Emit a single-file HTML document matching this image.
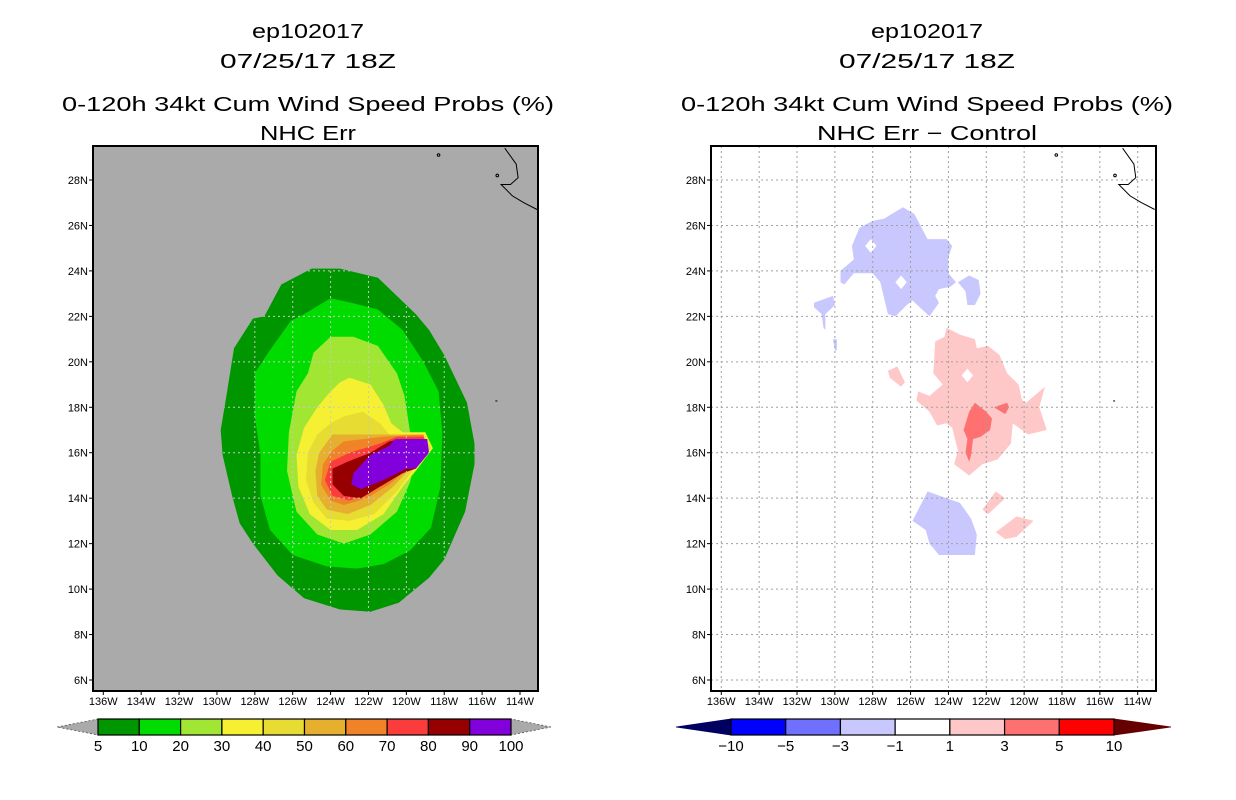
<!DOCTYPE html>
<html><head><meta charset="utf-8"><style>
html,body{margin:0;padding:0;background:#fff;}
svg{display:block;font-family:"Liberation Sans",sans-serif;}
</style></head><body>
<svg id="s" width="1236" height="800" viewBox="0 0 1236 800">
<g id="titles">
<text x="308" y="38" text-anchor="middle" font-size="20" textLength="112" lengthAdjust="spacingAndGlyphs">ep102017</text>
<text x="308" y="68" text-anchor="middle" font-size="20" textLength="176" lengthAdjust="spacingAndGlyphs">07/25/17 18Z</text>
<text x="308" y="111" text-anchor="middle" font-size="20" textLength="492" lengthAdjust="spacingAndGlyphs">0-120h 34kt Cum Wind Speed Probs (%)</text>
<text x="308" y="140" text-anchor="middle" font-size="20" textLength="96" lengthAdjust="spacingAndGlyphs">NHC Err</text>
<text x="927" y="38" text-anchor="middle" font-size="20" textLength="112" lengthAdjust="spacingAndGlyphs">ep102017</text>
<text x="927" y="68" text-anchor="middle" font-size="20" textLength="176" lengthAdjust="spacingAndGlyphs">07/25/17 18Z</text>
<text x="927" y="111" text-anchor="middle" font-size="20" textLength="492" lengthAdjust="spacingAndGlyphs">0-120h 34kt Cum Wind Speed Probs (%)</text>
<text x="927" y="140" text-anchor="middle" font-size="20" textLength="220" lengthAdjust="spacingAndGlyphs">NHC Err − Control</text>
</g>
</svg>
<script>
// ---- data (lon in degrees W, lat in degrees N) ----
const lonTicks=[136,134,132,130,128,126,124,122,120,118,116,114];
const latTicks=[28,26,24,22,20,18,16,14,12,10,8,6];
const probLevels=[5,10,20,30,40,50,60,70,80,90,100];
const probColors=["#009600","#00dc00","#a0e632","#f5f032","#e6dc32","#e6af2d","#f08228","#fa3c3c","#960000","#8200dc"];
const diffLevels=["−10","−5","−3","−1","1","3","5","10"];
const diffColors=["#0000ff","#7070ff","#c8c8ff","#ffffff","#ffc8c8","#ff7070","#ff0000"];
const p5=[[125.0,24.1],[123.5,24.1],[121.5,23.7],[119.5,22.1],[118.8,21.4],[118.0,20.3],[116.8,18.2],[116.4,16.4],[116.4,15.5],[116.9,13.4],[118.0,11.3],[118.8,10.5],[120.4,9.4],[121.9,9.0],[123.5,9.1],[125.4,9.6],[126.8,10.6],[128.1,12.0],[128.8,12.9],[129.2,14.1],[129.7,15.9],[129.8,17.0],[129.5,18.5],[129.1,20.6],[128.1,21.9],[127.5,22.0],[126.6,23.4]];
const p10=[[125.4,22.1],[124.0,22.8],[122.9,22.6],[121.5,22.3],[120.2,21.4],[119.1,20.0],[118.3,18.7],[118.1,16.9],[118.2,14.5],[118.7,12.7],[119.8,11.7],[121.2,11.1],[122.6,10.9],[124.2,11.0],[126.0,11.5],[127.2,12.6],[127.7,14.1],[127.7,15.9],[128.0,17.6],[128.0,19.5],[127.3,20.4],[126.1,21.8]];
const p20=[[124.0,21.1],[122.8,21.1],[121.5,20.7],[120.5,19.5],[120.1,18.5],[119.8,16.9],[119.5,15.9],[119.8,14.7],[120.5,13.4],[121.9,12.4],[123.3,12.0],[124.7,12.4],[125.8,13.4],[126.3,15.2],[126.2,16.9],[125.8,18.7],[125.2,19.5],[124.9,20.4]];
const p30=[[123.0,19.3],[121.9,19.0],[121.2,18.1],[120.8,17.3],[120.2,16.9],[119.0,16.9],[118.6,16.2],[119.5,15.2],[120.2,14.5],[121.2,13.3],[122.6,12.6],[124.0,12.6],[125.1,13.3],[125.7,14.5],[125.8,15.9],[125.4,17.1],[124.7,18.0],[124.0,18.7],[123.5,19.1]];
const p40=[[123.3,17.6],[122.3,17.8],[121.4,17.3],[120.9,16.8],[119.1,16.8],[118.7,16.2],[119.6,15.3],[120.5,14.3],[121.7,13.3],[123.0,13.0],[124.2,13.1],[124.9,13.8],[125.3,14.8],[125.2,16.0],[124.7,16.8],[124.0,17.3]];
const p50=[[123.9,16.8],[119.3,16.8],[118.9,16.2],[119.8,15.3],[120.7,14.5],[121.9,13.7],[123.1,13.3],[124.2,13.5],[124.7,14.1],[124.8,15.2],[124.6,16.0]];
const p60=[[123.3,16.5],[121.2,16.7],[119.1,16.8],[118.9,16.2],[119.9,15.3],[120.9,14.6],[122.1,14.0],[123.3,13.7],[124.0,13.9],[124.5,14.6],[124.4,15.5],[123.9,16.1]];
const p70=[[123.0,16.0],[121.4,16.4],[120.5,16.7],[119.1,16.7],[118.9,16.2],[119.8,15.4],[120.9,14.8],[122.1,14.2],[123.0,13.9],[123.9,14.1],[124.3,14.8],[124.0,15.6]];
const p80=[[123.1,15.6],[121.9,16.0],[120.9,16.5],[120.3,16.6],[118.9,16.6],[118.9,16.0],[119.5,15.3],[120.2,15.1],[121.4,14.5],[122.4,14.0],[123.3,14.1],[123.9,14.6],[123.9,15.3]];
const p90=[[122.8,15.1],[121.9,15.9],[120.9,16.3],[120.6,16.6],[118.9,16.6],[118.8,16.0],[119.5,15.3],[120.0,15.3],[121.2,14.8],[122.4,14.4],[122.9,14.6]];
const dBlueN=[[128.7,25.9],[128.0,26.2],[127.4,26.3],[126.4,26.8],[125.8,26.5],[125.1,25.4],[124.1,25.4],[123.8,25.1],[124.0,24.6],[124.0,23.9],[123.6,23.5],[123.9,23.3],[124.5,23.2],[124.7,22.9],[124.5,22.6],[125.0,22.0],[125.9,22.7],[126.2,22.5],[126.8,22.0],[127.2,22.1],[127.6,23.5],[128.0,23.9],[129.0,23.9],[129.5,23.4],[129.7,23.5],[129.7,24.0],[129.0,24.5],[129.1,25.1]];
const dBlueNE=[[123.5,23.5],[122.9,23.8],[122.4,23.6],[122.3,23.0],[122.6,22.5],[123.0,22.5],[123.1,23.1]];
const dBlueW=[[131.1,22.6],[130.1,22.9],[130.0,22.5],[130.5,22.1],[130.5,21.4],[130.6,21.5],[130.7,22.1],[131.1,22.4]];
const dBlueW2=[[130.1,21.0],[129.9,21.0],[129.9,20.5],[130.0,20.5]];
const dBlueS=[[125.9,13.0],[125.1,14.3],[124.1,14.0],[123.4,13.8],[122.8,13.1],[122.5,12.4],[122.6,11.5],[123.7,11.5],[124.5,11.5],[125.0,12.0],[125.2,12.6]];
const dPink=[[124.1,21.5],[123.4,21.2],[122.6,21.0],[122.5,20.6],[121.9,20.7],[121.3,20.3],[120.9,19.5],[120.3,19.0],[120.1,18.3],[119.9,18.2],[118.9,18.9],[119.2,18.0],[118.8,17.0],[119.8,16.8],[120.6,17.3],[120.7,16.4],[121.4,15.7],[122.2,15.5],[122.9,15.0],[123.7,15.5],[123.5,16.1],[123.8,17.1],[124.1,17.3],[124.6,17.2],[125.0,17.8],[125.7,18.3],[125.6,18.7],[125.0,18.5],[124.3,19.0],[124.8,19.5],[124.7,20.9],[124.2,21.1]];
const dPinkW=[[127.2,19.6],[126.7,19.8],[126.3,19.1],[126.5,18.9],[127.1,19.3]];
const dPinkS1=[[122.2,13.5],[121.5,14.3],[121.0,14.0],[121.9,13.3]];
const dPinkS2=[[121.5,12.5],[120.4,13.2],[119.5,13.0],[120.4,12.3],[121.0,12.2]];
const dRed=[[122.6,18.2],[122.0,17.8],[121.7,17.5],[121.8,17.0],[122.3,16.7],[122.7,16.6],[122.8,15.9],[122.9,15.6],[123.1,16.0],[123.0,16.6],[123.2,17.0],[122.9,17.8]];
const dRed2=[[121.6,18.0],[120.9,18.2],[120.8,18.0],[121.0,17.7]];
const coast=[[114.8,29.4],[114.2,28.7],[114.1,28.1],[114.5,27.8],[115.0,27.8],[114.4,27.3],[113.8,27.0],[113.1,26.7]];

// ---- drawing ----
const NS="http://www.w3.org/2000/svg";
const svg=document.getElementById('s');
function mk(tag,attrs,parent){const e=document.createElementNS(NS,tag);for(const k in attrs)e.setAttribute(k,attrs[k]);(parent||svg).appendChild(e);return e;}
const panels=[
 {x0:93,x1:538,lon136:103.3,lon114:520.0,id:'left'},
 {x0:711,x1:1156,lon136:721.3,lon114:1137.7,id:'right'}];
const yTop=146,yBot=691,lat28y=180,lat6y=680;
function yS(lat){return lat28y+(28-lat)*(lat6y-lat28y)/22;}
function xS(p,lon){return p.lon136+(136-lon)*(p.lon114-p.lon136)/22;}
function pts(p,arr){return arr.map(d=>xS(p,d[0]).toFixed(1)+','+yS(d[1]).toFixed(1)).join(' ');}

panels.forEach((p,pi)=>{
 const g=mk('g',{});
 
 
 const clip=mk('clipPath',{id:'clip'+pi},g);
 mk('rect',{x:p.x0,y:yTop,width:p.x1-p.x0,height:yBot-yTop},clip);
 const bg=mk('rect',{x:p.x0,y:yTop,width:p.x1-p.x0,height:yBot-yTop,fill:pi==0?'#aaaaaa':'#ffffff'},g);
 
 
 const inner=mk('g',{'clip-path':'url(#clip'+pi+')'},g);
 if(pi==0){
  const shapes=[p5,p10,p20,p30,p40,p50,p60,p70,p80,p90];
  shapes.forEach((s,i)=>{
   const e=mk('polygon',{points:pts(p,s),fill:probColors[i]},inner);
   
   
  });
  const cp=mk('clipPath',{id:'gclip'},g);
  mk('polygon',{points:pts(p,p5)},cp);
 } else {
  const shapes=[[dBlueN,2],[dBlueNE,2],[dBlueW,2],[dBlueW2,2],[dBlueS,2],[dPink,4],[dPinkW,4],[dPinkS1,4],[dPinkS2,4],[dRed,5],[dRed2,5]];
  shapes.forEach((s,i)=>{
   const e=mk('polygon',{points:pts(p,s[0]),fill:diffColors[s[1]]},inner);
   
   
  });
  [[128.1,25.1,'#ffffff'],[126.5,23.5,'#ffffff'],[123.0,19.4,'#ffffff']].forEach(h=>{
   const r=0.3;
   const e=mk('polygon',{points:pts(p,[[h[0]-r,h[1]],[h[0],h[1]+r],[h[0]+r,h[1]],[h[0],h[1]-r]]),fill:h[2]},inner);
   
   
  });
 }
 // grid
 const gg=mk('g',{stroke:pi==0?'#c8c8c8':'#a0a0a0','stroke-width':1,'stroke-dasharray':'2,3'},inner);
 if(pi==0)gg.setAttribute('clip-path','url(#gclip)');
 
 
 lonTicks.forEach(l=>mk('line',{x1:xS(p,l),x2:xS(p,l),y1:yTop,y2:yBot},gg));
 latTicks.forEach(l=>mk('line',{x1:p.x0,x2:p.x1,y1:yS(l),y2:yS(l)},gg));
 // coast
 const c=mk('polyline',{points:pts(p,coast),fill:'none',stroke:'#000','stroke-width':1},inner);
 
 
 mk('circle',{cx:xS(p,118.3),cy:yS(29.1),r:1.3,fill:'none',stroke:'#000'},inner);
 mk('circle',{cx:xS(p,115.2),cy:yS(28.2),r:1.3,fill:'none',stroke:'#000'},inner);
 mk('rect',{x:xS(p,115.3),y:yS(18.3),width:2,height:1,fill:'#000'},inner);
 // frame
 const fr=mk('rect',{x:p.x0,y:yTop,width:p.x1-p.x0,height:yBot-yTop,fill:'none',stroke:'#000','stroke-width':2},g);
 
 
 // ticks & labels
 lonTicks.forEach(l=>{
  mk('line',{x1:xS(p,l),x2:xS(p,l),y1:yBot,y2:yBot+4,stroke:'#000'},g);
  const t=mk('text',{x:xS(p,l),y:yBot+14,'text-anchor':'middle','font-size':11},g);
  t.textContent=l+'W';
  
  
 });
 latTicks.forEach(l=>{
  mk('line',{x1:p.x0-4,x2:p.x0,y1:yS(l),y2:yS(l),stroke:'#000'},g);
  const t=mk('text',{x:p.x0-5,y:yS(l)+4,'text-anchor':'end','font-size':11},g);
  t.textContent=l+'N';
  
  
 });
});

// ---- colorbars ----
function colorbar(x0,x1,cols,labels,lcol,rcol,tl,tr,name,dashed){
 const g=mk('g',{});
 
 
 const y0=719,y1=735,ym=727,w=(x1-x0)/cols.length;
 const a=mk('polygon',{points:`${tl},${ym} ${x0},${y0} ${x0},${y1}`,fill:lcol,stroke:dashed?'#555':lcol,'stroke-dasharray':dashed?'2,2':'none','stroke-width':0.8},g);
 
 
 const b=mk('polygon',{points:`${tr},${ym} ${x1},${y0} ${x1},${y1}`,fill:rcol,stroke:dashed?'#555':rcol,'stroke-dasharray':dashed?'2,2':'none','stroke-width':0.8},g);
 
 
 cols.forEach((c,i)=>{
  const r=mk('rect',{x:x0+i*w,y:y0,width:w,height:y1-y0,fill:c,stroke:'#000','stroke-width':1.2},g);
  
  
 });
 labels.forEach((l,i)=>{
  const t=mk('text',{x:x0+i*w,y:751,'text-anchor':'middle','font-size':15},g);
  t.textContent=l;
  
  
 });
}
colorbar(98,511,probColors,probLevels,'#aaaaaa','#aaaaaa',57,551,'left-colorbar',true);
colorbar(731,1114,diffColors,diffLevels,'#000060','#660000',676,1171,'right-colorbar',false);
</script>
</body></html>
